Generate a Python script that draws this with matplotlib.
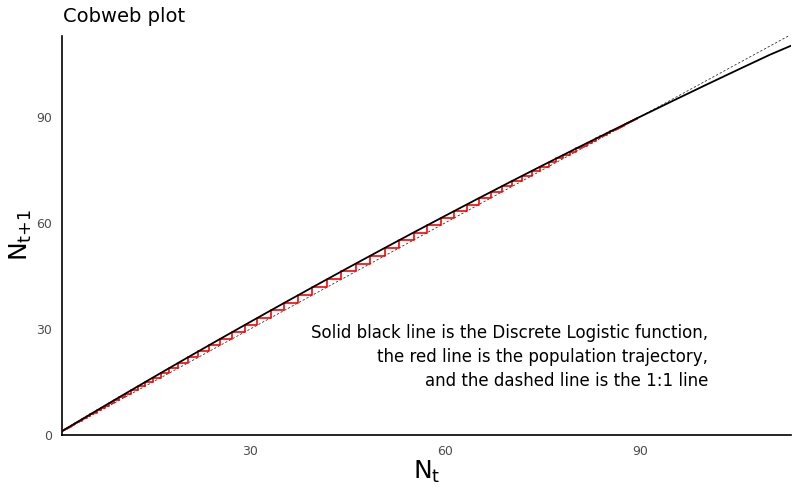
import numpy as np
import matplotlib
matplotlib.use('Agg')
import matplotlib.pyplot as plt

# discrete logistic curve, N_t vs N_t+1 (K ~ 90)
curve_n = [1, 5, 10, 15, 20, 25, 30, 35, 40, 45, 50, 55, 60, 65, 70, 75, 80, 85, 90, 95, 100, 105, 110, 113.3]
curve_next = [1.10, 5.47, 10.89, 16.25, 21.56, 26.81, 32.00, 37.14, 42.22, 47.25, 52.22, 57.14, 62.00,
              66.81, 71.56, 76.25, 80.89, 85.47, 90.00, 94.47, 98.89, 103.25, 107.56, 110.15]

# population trajectory N_0, N_1, ...
trajectory = [1.00, 1.10, 1.21, 1.33, 1.46, 1.60, 1.76, 1.93, 2.12, 2.33, 2.55, 2.80, 3.07, 3.37, 3.69,
              4.05, 4.43, 4.86, 5.31, 5.81, 6.36, 6.95, 7.59, 8.29, 9.04, 9.85, 10.73, 11.67, 12.69, 13.78,
              14.95, 16.19, 17.52, 18.93, 20.43, 22.01, 23.67, 25.41, 27.24, 29.14, 31.11, 33.14, 35.23,
              37.38, 39.56, 41.78, 44.02, 46.27, 48.52, 50.75, 52.97, 55.15, 57.28, 59.36, 61.38, 63.34,
              65.21, 67.01, 68.72, 70.35, 71.88, 73.33, 74.69, 75.96, 77.14, 78.25, 79.27, 80.21, 81.08,
              81.89, 82.63, 83.30, 83.92, 84.49, 85.01, 85.48, 85.91, 86.30, 86.65, 86.98, 87.27, 87.53,
              87.77, 87.99, 88.19, 88.36, 88.52, 88.67, 88.80, 88.92, 89.03, 89.12, 89.21, 89.29, 89.36,
              89.42, 89.48, 89.53, 89.58, 89.62]

ticks = [0, 30, 60, 90]
note = ("Solid black line is the Discrete Logistic function,\n"
        "the red line is the population trajectory,\n"
        "and the dashed line is the 1:1 line")

# cobweb path: up to the curve, then across to the 1:1 line
traj = np.array(trajectory)
px = np.column_stack([traj[:-1], traj[:-1], traj[1:]]).ravel()
py = np.column_stack([traj[:-1], traj[1:], traj[1:]]).ravel()

fig = plt.figure(figsize=(7.99, 4.94), dpi=100)
ax = fig.add_axes([62/799, 1 - 435/494, (791 - 62)/799, (435 - 36)/494])

xmin, xmax = 1, 113.3
ymin, ymax = 0, 112.9
ax.plot([0, 120], [0, 120], color='#222222', lw=0.55, dashes=(3, 2.5), zorder=2)
ax.plot(px, py, color='#ff0000', lw=1.2, zorder=3)
ax.plot(curve_n, curve_next, color='black', lw=1.3, zorder=4)

ax.text(100.5, 22.1, note, ha='right', va='center', multialignment='right',
        fontsize=12, linespacing=1.45, color='black')

ax.set_xlim(xmin, xmax)
ax.set_ylim(ymin, ymax)
ax.set_xticks([t for t in ticks if t >= xmin])
ax.set_yticks(ticks)
ax.tick_params(length=0, labelsize=9, labelcolor='#4d4d4d', pad=7)
for s in ['top', 'right']:
    ax.spines[s].set_visible(False)
for s in ['left', 'bottom']:
    ax.spines[s].set_linewidth(1.2)
    ax.spines[s].set_color('black')

ax.set_xlabel(r'$\mathregular{N_t}$', fontsize=18, labelpad=1)
ax.set_ylabel(r'$\mathregular{N_{t{+}1}}$', fontsize=18, labelpad=2)
fig.text(63/799, 1 - 17/494, 'Cobweb plot', fontsize=14, ha='left', va='center')

fig.savefig('out.png', dpi=100)
